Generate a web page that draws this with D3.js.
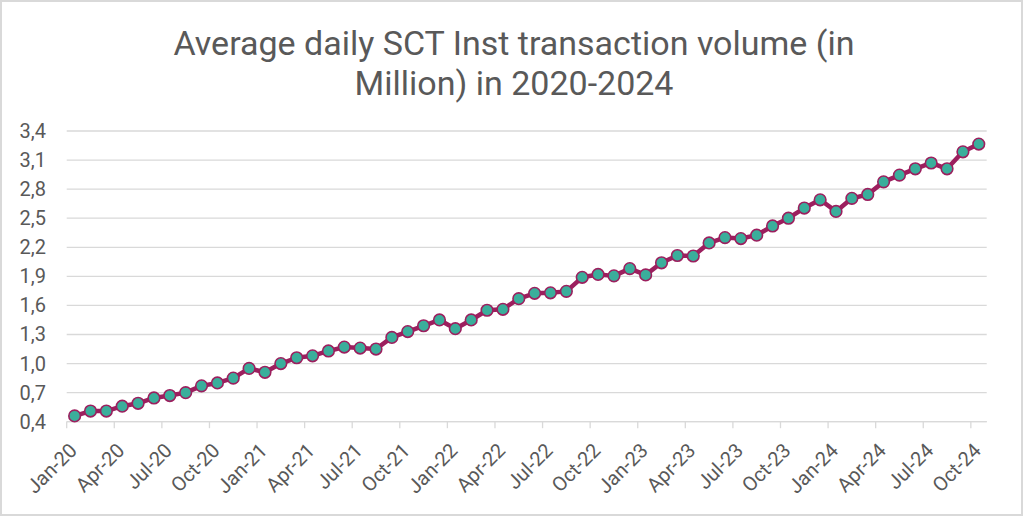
<!DOCTYPE html>
<html>
<head>
<meta charset="utf-8">
<script src="https://cdn.jsdelivr.net/npm/d3@7"></script>
<style>
  html, body { margin: 0; padding: 0; background: #fff; }
  svg { display: block; }
  text { font-family: Roboto, "Noto Sans", sans-serif; fill: #595959; }
</style>
</head>
<body>
<svg id="chart" width="1024" height="518"></svg>
<script>
const titleLines = ["Average daily SCT Inst transaction volume (in", "Million) in 2020-2024"];
const months = ["Jan","Feb","Mar","Apr","May","Jun","Jul","Aug","Sep","Oct","Nov","Dec"];
const categories = [];
for (const yr of ["20","21","22","23","24"]) for (const m of months) categories.push(m + "-" + yr);
categories.length = 58; // Jan-20 .. Oct-24
const values = [
  0.46, 0.51, 0.51, 0.56, 0.59, 0.645, 0.67, 0.70, 0.77, 0.80, 0.85, 0.95,
  0.91, 1.00, 1.06, 1.08, 1.13, 1.17, 1.16, 1.15, 1.27, 1.33, 1.39, 1.45,
  1.36, 1.45, 1.55, 1.56, 1.67, 1.725, 1.73, 1.745, 1.89, 1.92, 1.905, 1.98,
  1.915, 2.04, 2.115, 2.11, 2.245, 2.30, 2.29, 2.325, 2.42, 2.50, 2.605, 2.69,
  2.57, 2.705, 2.745, 2.875, 2.945, 3.01, 3.07, 3.01, 3.185, 3.265
];
const yTicks = [0.4, 0.7, 1.0, 1.3, 1.6, 1.9, 2.2, 2.5, 2.8, 3.1, 3.4];
const xTickLabels = categories.filter((d, i) => i % 3 === 0);

const svg = d3.select("#chart");
const W = 1024, H = 518;
const mLeft = 66.7, mRight = 986.7, mTop = 131, mBottom = 421.7;

// outer border
svg.append("rect").attr("x", 1).attr("y", 1).attr("width", W - 3).attr("height", H - 4)
  .attr("fill", "#fff").attr("stroke", "#d9d9d9").attr("stroke-width", 2);

// title
svg.append("text").attr("text-anchor", "middle")
  .style("font-size", "34px")
  .selectAll("tspan").data(titleLines).join("tspan")
  .attr("x", 514).attr("y", (d, i) => 55 + i * 40).text(d => d);

const x = d3.scaleBand().domain(categories).range([mLeft, mRight]);
const y = d3.scaleLinear().domain([0.4, 3.4]).range([mBottom, mTop]);

// gridlines
svg.append("g").selectAll("line").data(yTicks).join("line")
  .attr("x1", mLeft).attr("x2", mRight)
  .attr("y1", d => y(d)).attr("y2", d => y(d))
  .attr("stroke", "#d9d9d9").attr("stroke-width", 1.3);

// y labels
svg.append("g").selectAll("text").data(yTicks).join("text")
  .attr("x", 46).attr("y", d => y(d)).attr("dy", "0.35em")
  .attr("text-anchor", "end").style("font-size", "20px")
  .text(d => d3.format(".1f")(d).replace(".", ","));

// x axis line and ticks (between categories, every 3)
svg.append("line").attr("x1", mLeft).attr("x2", mRight).attr("y1", mBottom).attr("y2", mBottom)
  .attr("stroke", "#d9d9d9").attr("stroke-width", 1.3);
const tickIdx = d3.range(0, categories.length, 3);
svg.append("g").selectAll("line").data(tickIdx).join("line")
  .attr("x1", i => x(categories[i])).attr("x2", i => x(categories[i]))
  .attr("y1", mBottom).attr("y2", mBottom + 6.5)
  .attr("stroke", "#d9d9d9").attr("stroke-width", 1.3);

// x labels
svg.append("g").selectAll("text").data(xTickLabels).join("text")
  .attr("text-anchor", "end").style("font-size", "20px")
  .attr("transform", d => `translate(${x(d) + x.bandwidth() / 2 + 3.5},${mBottom + 30}) rotate(-45)`)
  .text(d => d);

// line
const cx = d => x(d) + x.bandwidth() / 2;
const pts = categories.map((c, i) => [cx(c), y(values[i])]);
svg.append("path").datum(pts)
  .attr("d", d3.line())
  .attr("fill", "none").attr("stroke", "#9c1f5e").attr("stroke-width", 4.5)
  .attr("stroke-linejoin", "round");

// markers
svg.append("g").selectAll("circle").data(pts).join("circle")
  .attr("cx", d => d[0]).attr("cy", d => d[1]).attr("r", 5.8)
  .attr("fill", "#3aae9b").attr("stroke", "#9c1f5e").attr("stroke-width", 1.6);
</script>
</body>
</html>
